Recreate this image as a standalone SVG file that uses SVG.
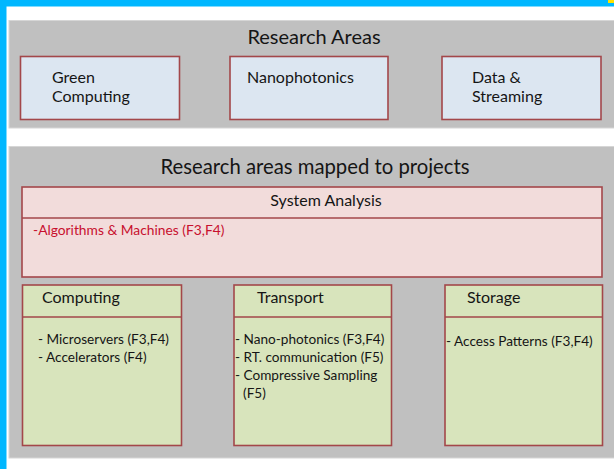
<svg xmlns="http://www.w3.org/2000/svg" width="614" height="469" viewBox="0 0 614 469">
<style>
text{font-family:Lato,"Liberation Sans",sans-serif;fill:#151515}
.t1{font-size:20px}
.t2{font-size:20.3px}
.area{font-size:16px}
.hdr{font-size:16px}
.item{font-size:13.6px}
.red{font-size:13.8px;fill:#c8102e}
.panel{fill:#c0c0c0;stroke:#d6d6d6;stroke-width:1}
.box{stroke:#a3474a;stroke-width:1.6}
.blue{fill:#dce6f1}
.pink{fill:#f2dcdb}
.green{fill:#d8e4bc}
</style>
<rect width="614" height="469" fill="#ffffff"/>
<rect x="0" y="0" width="614" height="6.5" fill="#00b7ff"/>
<rect x="0" y="0" width="6.5" height="469" fill="#00b7ff"/>
<rect x="608" y="0" width="6" height="3" fill="#ffe200"/>

<g id="panel-research-areas">
<rect class="panel" x="9" y="20.5" width="606" height="107.5"/>
<text class="t1" x="314" y="44" text-anchor="middle">Research Areas</text>
</g>
<g id="green-computing">
<rect class="box blue" x="20.5" y="56.5" width="159" height="63"/>
<text class="area" x="52" y="83">Green</text>
<text class="area" x="52" y="102">Computing</text>
</g>
<g id="nanophotonics">
<rect class="box blue" x="230" y="56.5" width="158" height="63"/>
<text class="area" x="247" y="83">Nanophotonics</text>
</g>
<g id="data-streaming">
<rect class="box blue" x="442" y="56.5" width="159" height="63"/>
<text class="area" x="472" y="83">Data &amp;</text>
<text class="area" x="472" y="102">Streaming</text>
</g>

<g id="panel-projects">
<rect class="panel" x="9" y="146.5" width="606" height="311.5"/>
<text class="t2" x="315" y="174" text-anchor="middle">Research areas mapped to projects</text>
</g>
<g id="system-analysis">
<rect class="box pink" x="22" y="187" width="580" height="90"/>
<line class="box" x1="22" y1="218" x2="602" y2="218"/>
<text class="hdr" x="326" y="205.5" text-anchor="middle">System Analysis</text>
<text class="red" x="33" y="235">-Algorithms &amp; Machines (F3,F4)</text>
</g>
<g id="computing">
<rect class="box green" x="22.5" y="285" width="159" height="160.5"/>
<line class="box" x1="22.5" y1="317" x2="181.5" y2="317"/>
<text class="hdr" x="42" y="303">Computing</text>
<text class="item" x="38" y="343.5">- Microservers (F3,F4)</text>
<text class="item" x="38" y="361.5">- Accelerators (F4)</text>
</g>
<g id="transport">
<rect class="box green" x="234" y="285" width="157.5" height="160.5"/>
<line class="box" x1="234" y1="317" x2="391.5" y2="317"/>
<text class="hdr" x="257" y="303">Transport</text>
<text class="item" x="235" y="343.5">- Nano-photonics (F3,F4)</text>
<text class="item" x="235" y="361.5">- RT. communication (F5)</text>
<text class="item" x="235" y="379.5">- Compressive Sampling</text>
<text class="item" x="243" y="397.5">(F5)</text>
</g>
<g id="storage">
<rect class="box green" x="445" y="285" width="157.5" height="160.5"/>
<line class="box" x1="445" y1="317" x2="602.5" y2="317"/>
<text class="hdr" x="467" y="303">Storage</text>
<text class="item" x="446" y="345.5">- Access Patterns (F3,F4)</text>
</g>
<g id="connectors"></g>
</svg>
